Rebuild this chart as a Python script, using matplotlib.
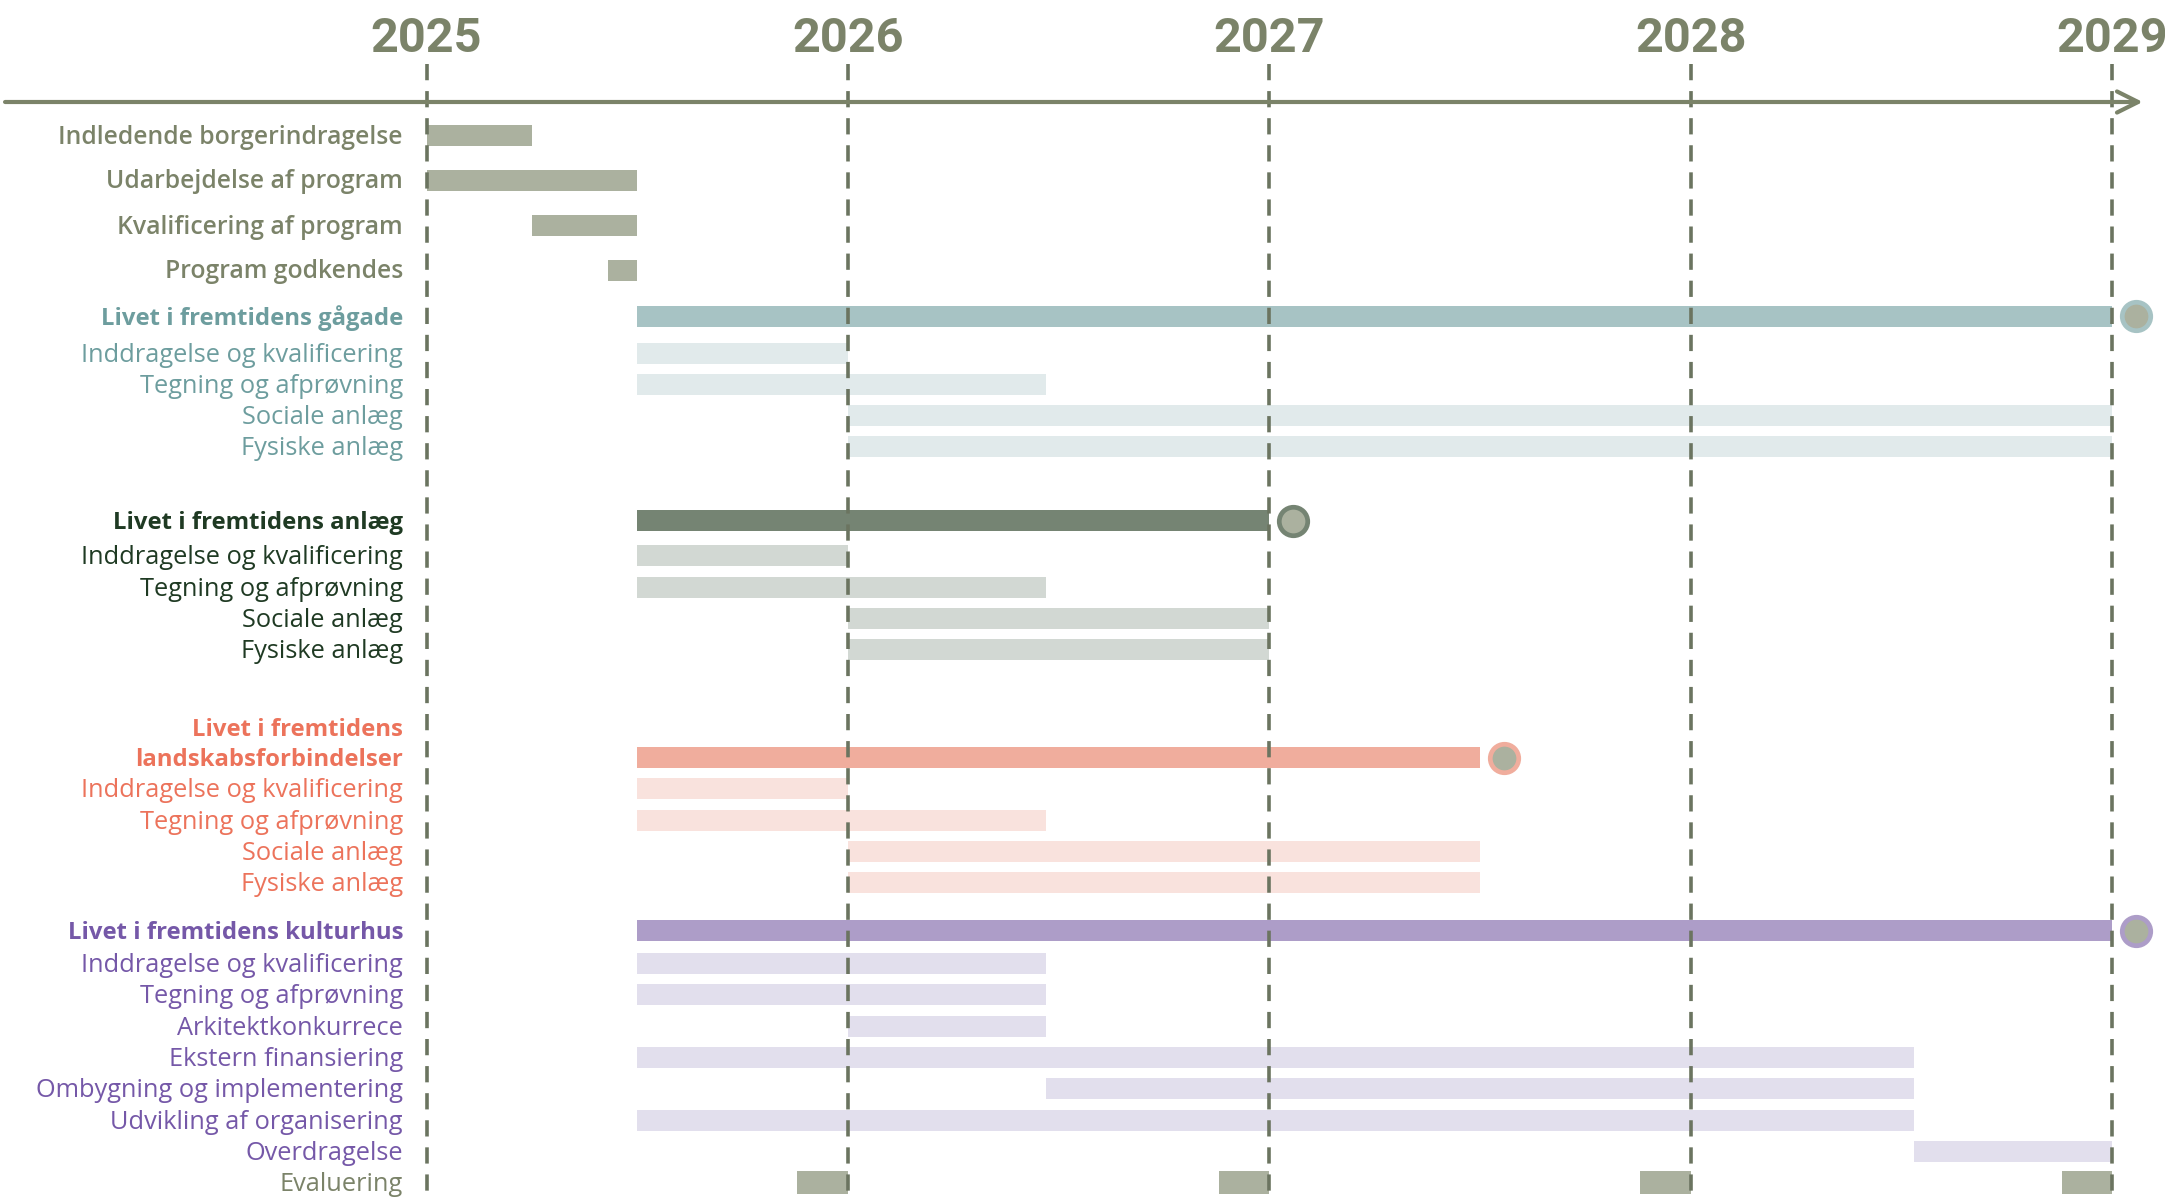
import matplotlib.pyplot as plt
from matplotlib.transforms import blended_transform_factory

plt.rcParams['font.family'] = ['Open Sans', 'DejaVu Sans']

# data (years as decimal)
years = [2025, 2026, 2027, 2028, 2029]

intro_tasks = ["Indledende borgerindragelse", "Udarbejdelse af program",
               "Kvalificering af program", "Program godkendes"]
intro_start = [2025.0, 2025.0, 2025.25, 2025.43]
intro_end = [2025.25, 2025.5, 2025.5, 2025.5]

group_names = ["Livet i fremtidens gågade", "Livet i fremtidens anlæg",
               "Livet i fremtidens\nlandskabsforbindelser", "Livet i fremtidens kulturhus"]
group_start = [2025.5, 2025.5, 2025.5, 2025.5]
group_end = [2029.0, 2027.0, 2027.5, 2029.0]

common_tasks = ["Inddragelse og kvalificering", "Tegning og afprøvning",
                "Sociale anlæg", "Fysiske anlæg"]
gaagade_start = [2025.5, 2025.5, 2026.0, 2026.0]
gaagade_end = [2026.0, 2026.47, 2029.0, 2029.0]
anlaeg_start = [2025.5, 2025.5, 2026.0, 2026.0]
anlaeg_end = [2026.0, 2026.47, 2027.0, 2027.0]
landskab_start = [2025.5, 2025.5, 2026.0, 2026.0]
landskab_end = [2026.0, 2026.47, 2027.5, 2027.5]

kultur_tasks = ["Inddragelse og kvalificering", "Tegning og afprøvning",
                "Arkitektkonkurrece", "Ekstern finansiering",
                "Ombygning og implementering", "Udvikling af organisering",
                "Overdragelse"]
kultur_start = [2025.5, 2025.5, 2026.0, 2025.5, 2026.47, 2025.5, 2028.53]
kultur_end = [2026.47, 2026.47, 2026.47, 2028.53, 2028.53, 2028.53, 2029.0]

eval_label = "Evaluering"
eval_start = [2025.88, 2026.88, 2027.88, 2028.88]
eval_end = [2026.0, 2027.0, 2028.0, 2029.0]

sub_tasks = [common_tasks, common_tasks, common_tasks, kultur_tasks]
sub_start = [gaagade_start, anlaeg_start, landskab_start, kultur_start]
sub_end = [gaagade_end, anlaeg_end, landskab_end, kultur_end]

# styles
olive = '#7b8369'
grey_bar = '#abb19f'
dash_col = '#6b7460'
main_cols = ['#a7c3c4', '#758473', '#f0ad9d', '#ad9dc8']
sub_cols = ['#e1eaeb', '#d2d8d3', '#f9e2dd', '#e2dfed']
text_cols = ['#6d9d9e', '#1f3a23', '#ec735b', '#7558a8']

W, H = 2165, 1197
fig = plt.figure(figsize=(W / 100, H / 100), dpi=100)
ax = fig.add_axes([0, 0, 1, 1])
ax.set_xlim(2023.988, 2029.125)
ax.set_ylim(H, 0)
ax.axis('off')

lbl = blended_transform_factory(ax.transAxes, ax.transData)
label_x = 403 / W
bar_h = 21
px_year = 1 / 421.5


def label(y, text, color, weight='normal', size=18.3):
    lines = text.split('\n')
    for k, line in enumerate(reversed(lines)):
        ax.text(label_x, y + 2 - 30 * k, line, transform=lbl, ha='right', va='center',
                color=color, fontsize=size, fontweight=weight)


# intro rows
y = 135
for name, s, e in zip(intro_tasks, intro_start, intro_end):
    ax.barh(y, e - s, left=s, height=bar_h, color=grey_bar, zorder=2)
    label(y, name, olive, weight='semibold', size=17.8)
    y += 45
y -= 45

header_gap = [46, 74, 108, 48]
first_gap = [37, 35, 31, 33]
step = 31.3
for g in range(len(group_names)):
    y += header_gap[g]
    ax.barh(y, group_end[g] - group_start[g], left=group_start[g], height=bar_h,
            color=main_cols[g], zorder=2)
    ax.plot(group_end[g] + 24 * px_year, y, 'o', ms=20.5, mfc=grey_bar,
            mec=main_cols[g], mew=3.4, zorder=4)
    label(y, group_names[g], text_cols[g], weight='bold', size=17.2)
    y += first_gap[g] - step
    for name, s, e in zip(sub_tasks[g], sub_start[g], sub_end[g]):
        y += step
        ax.barh(y, e - s, left=s, height=bar_h, color=sub_cols[g], zorder=2)
        label(y, name, text_cols[g])

y += step
for s, e in zip(eval_start, eval_end):
    ax.barh(y, e - s, left=s, height=bar_h + 2, color=grey_bar, zorder=2)
label(y, eval_label, olive)

# year lines and labels
for yr in years:
    ax.plot([yr, yr], [64, H], color=dash_col, lw=2.6, ls=(0, (4.5, 3)), zorder=3)
    ax.text(yr, 39, str(yr), ha='center', va='center', color=olive,
            fontsize=35, fontweight='bold', family='Roboto')

# timeline arrow
ax.annotate('', xy=(2024.0 + 2143 * px_year - 0.012, 102), xytext=(2024.0, 102),
            arrowprops=dict(arrowstyle='->', color=olive, lw=3, mutation_scale=38,
                            shrinkA=0, shrinkB=0))

fig.savefig('out.png', dpi=100)
